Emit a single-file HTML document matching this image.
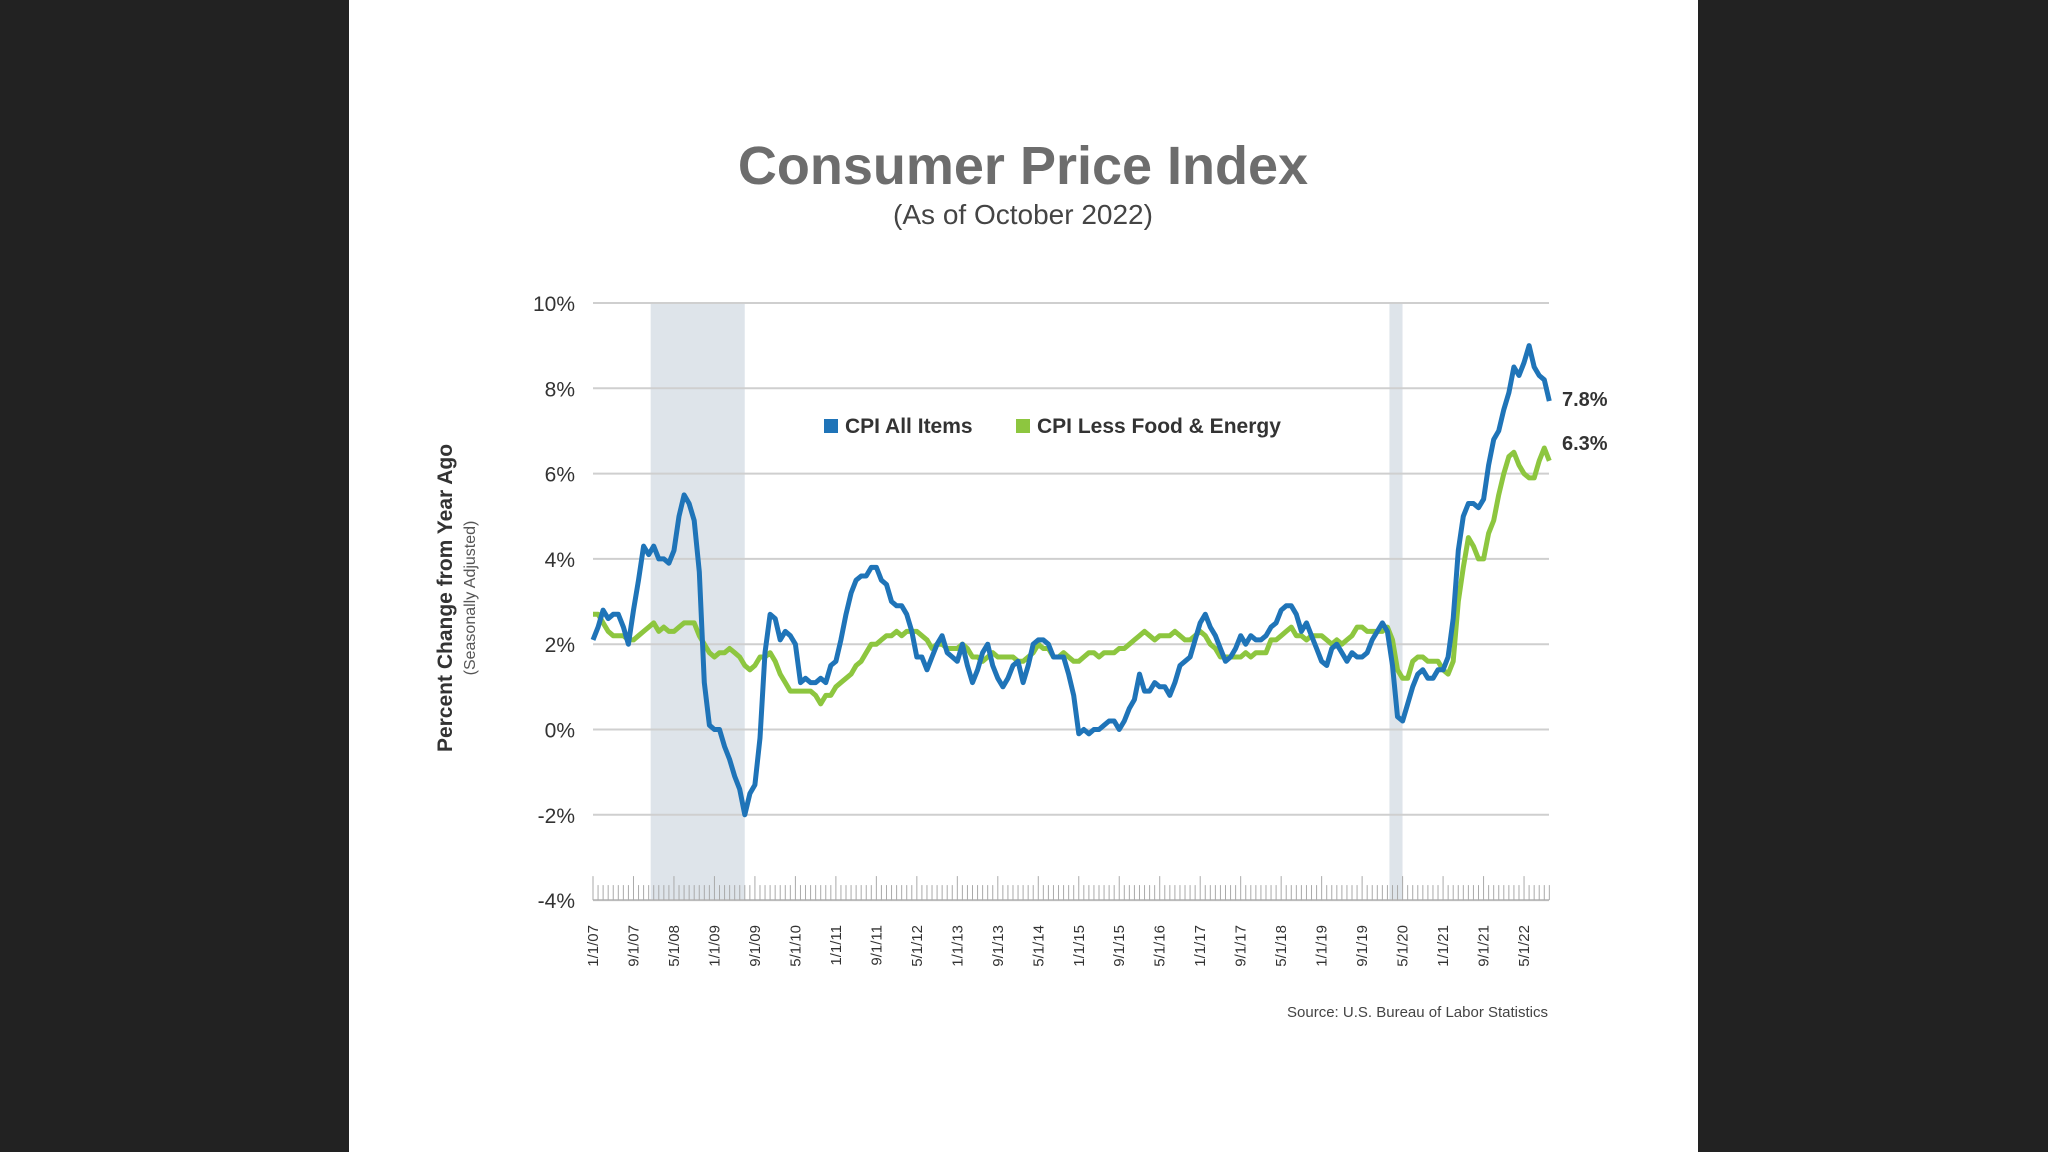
<!DOCTYPE html>
<html><head><meta charset="utf-8"><style>
body{margin:0;background:#222;width:2048px;height:1152px;overflow:hidden;font-family:"Liberation Sans",sans-serif}
</style></head><body>
<div style="position:absolute;left:0;top:0;width:2048px;height:1152px;background:#222"></div>
<div style="position:absolute;left:349px;top:0;width:1349px;height:1152px;background:#fff"></div>
<svg id="chart" width="2048" height="1152" style="position:absolute;left:0;top:0" font-family="Liberation Sans, sans-serif">
<text x="1023" y="184" text-anchor="middle" font-size="54" font-weight="bold" fill="#6d6d6d">Consumer Price Index</text>
<text x="1023" y="224" text-anchor="middle" font-size="28" fill="#444">(As of October 2022)</text>
<text transform="translate(452,598) rotate(-90)" text-anchor="middle" font-size="21" font-weight="bold" fill="#333">Percent Change from Year Ago</text>
<text transform="translate(475,598) rotate(-90)" text-anchor="middle" font-size="16" fill="#555">(Seasonally Adjusted)</text>
<g id="shade"></g><g id="grid"></g><g id="ticks"></g><g id="xlabels"></g><g id="lines"></g>
<rect x="824" y="419" width="14" height="14" fill="#1f74b8"/>
<text x="845" y="433" font-size="21" font-weight="bold" fill="#333">CPI All Items</text>
<rect x="1016" y="419" width="14" height="14" fill="#8dc63f"/>
<text x="1037" y="433" font-size="21" font-weight="bold" fill="#333">CPI Less Food &amp; Energy</text>
<text x="1562" y="406" font-size="20" font-weight="bold" fill="#333">7.8%</text>
<text x="1562" y="450" font-size="20" font-weight="bold" fill="#333">6.3%</text>
<text x="1548" y="1017" text-anchor="end" font-size="15" fill="#444">Source: U.S. Bureau of Labor Statistics</text>
</svg>
<script>
const yTicks=[10,8,6,4,2,0,-2,-4];
const xLabels=["1/1/07","9/1/07","5/1/08","1/1/09","9/1/09","5/1/10","1/1/11","9/1/11","5/1/12","1/1/13","9/1/13","5/1/14","1/1/15","9/1/15","5/1/16","1/1/17","9/1/17","5/1/18","1/1/19","9/1/19","5/1/20","1/1/21","9/1/21","5/1/22"];
const recessions=[[11,29],[157,159]];
const cpiAll=[2.1,2.4,2.8,2.6,2.7,2.7,2.4,2.0,2.8,3.5,4.3,4.1,
4.3,4.0,4.0,3.9,4.2,5.0,5.5,5.3,4.9,3.7,1.1,0.1,
0.0,0.0,-0.4,-0.7,-1.1,-1.4,-2.0,-1.5,-1.3,-0.2,1.8,2.7,
2.6,2.1,2.3,2.2,2.0,1.1,1.2,1.1,1.1,1.2,1.1,1.5,
1.6,2.1,2.7,3.2,3.5,3.6,3.6,3.8,3.8,3.5,3.4,3.0,
2.9,2.9,2.7,2.3,1.7,1.7,1.4,1.7,2.0,2.2,1.8,1.7,
1.6,2.0,1.5,1.1,1.4,1.8,2.0,1.5,1.2,1.0,1.2,1.5,
1.6,1.1,1.5,2.0,2.1,2.1,2.0,1.7,1.7,1.7,1.3,0.8,
-0.1,0.0,-0.1,0.0,0.0,0.1,0.2,0.2,0.0,0.2,0.5,0.7,
1.3,0.9,0.9,1.1,1.0,1.0,0.8,1.1,1.5,1.6,1.7,2.1,
2.5,2.7,2.4,2.2,1.9,1.6,1.7,1.9,2.2,2.0,2.2,2.1,
2.1,2.2,2.4,2.5,2.8,2.9,2.9,2.7,2.3,2.5,2.2,1.9,
1.6,1.5,1.9,2.0,1.8,1.6,1.8,1.7,1.7,1.8,2.1,2.3,
2.5,2.3,1.5,0.3,0.2,0.6,1.0,1.3,1.4,1.2,1.2,1.4,
1.4,1.7,2.6,4.2,5.0,5.3,5.3,5.2,5.4,6.2,6.8,7.0,
7.5,7.9,8.5,8.3,8.6,9.0,8.5,8.3,8.2,7.7];
const cpiCore=[2.7,2.7,2.5,2.3,2.2,2.2,2.2,2.1,2.1,2.2,2.3,2.4,
2.5,2.3,2.4,2.3,2.3,2.4,2.5,2.5,2.5,2.2,2.0,1.8,
1.7,1.8,1.8,1.9,1.8,1.7,1.5,1.4,1.5,1.7,1.7,1.8,
1.6,1.3,1.1,0.9,0.9,0.9,0.9,0.9,0.8,0.6,0.8,0.8,
1.0,1.1,1.2,1.3,1.5,1.6,1.8,2.0,2.0,2.1,2.2,2.2,
2.3,2.2,2.3,2.3,2.3,2.2,2.1,1.9,2.0,2.0,1.9,1.9,
1.9,2.0,1.9,1.7,1.7,1.6,1.7,1.8,1.7,1.7,1.7,1.7,
1.6,1.6,1.7,1.8,2.0,1.9,1.9,1.7,1.7,1.8,1.7,1.6,
1.6,1.7,1.8,1.8,1.7,1.8,1.8,1.8,1.9,1.9,2.0,2.1,
2.2,2.3,2.2,2.1,2.2,2.2,2.2,2.3,2.2,2.1,2.1,2.2,
2.3,2.2,2.0,1.9,1.7,1.7,1.7,1.7,1.7,1.8,1.7,1.8,
1.8,1.8,2.1,2.1,2.2,2.3,2.4,2.2,2.2,2.1,2.2,2.2,
2.2,2.1,2.0,2.1,2.0,2.1,2.2,2.4,2.4,2.3,2.3,2.3,
2.3,2.4,2.1,1.4,1.2,1.2,1.6,1.7,1.7,1.6,1.6,1.6,
1.4,1.3,1.6,3.0,3.8,4.5,4.3,4.0,4.0,4.6,4.9,5.5,
6.0,6.4,6.5,6.2,6.0,5.9,5.9,6.3,6.6,6.3];
const NS="http://www.w3.org/2000/svg";
const X0=593,PXM=5.06,Y10=303,PPCT=42.65;
function xs(m){return X0+m*PXM;}
function ys(v){return Y10+(10-v)*PPCT;}
function mk(tag,attrs,parent){const e=document.createElementNS(NS,tag);for(const k in attrs)e.setAttribute(k,attrs[k]);document.getElementById(parent).appendChild(e);return e;}
recessions.forEach(r=>{
  const e=mk('rect',{x:xs(r[0])+2,y:ys(10),width:xs(r[1])-xs(r[0])+3,height:ys(-4)-ys(10),fill:'#dee4ea'},'shade');
  
  
});
yTicks.forEach(t=>{
  if(t>-4){const g=mk('line',{x1:593,x2:1549,y1:ys(t),y2:ys(t),stroke:'#cfcfcf','stroke-width':2},'grid');
  
  }
  const l=mk('text',{x:575,y:ys(t)+8,'text-anchor':'end','font-size':21,fill:'#333'},'grid');
  
  
  l.textContent=t+'%';
});
const base=mk('line',{x1:593,x2:1549,y1:ys(-4),y2:ys(-4),stroke:'#bbb','stroke-width':2},'ticks');


for(let m=0;m<cpiAll.length;m++){
  const major=m%8===0;
  const t=mk('line',{x1:xs(m),x2:xs(m),y1:ys(-4),y2:ys(-4)-(major?24:15),stroke:'#aaa','stroke-width':1},'ticks');
  
  
}
xLabels.forEach((s,i)=>{
  const x=xs(i*8)+5;
  const t=mk('text',{transform:`translate(${x},925) rotate(-90)`,'text-anchor':'end','font-size':15,fill:'#333'},'xlabels');
  
  
  t.textContent=s;
});
function line(data,color,name){
  const d=data.map((v,i)=>(i?'L':'M')+xs(i).toFixed(1)+','+ys(v).toFixed(1)).join(' ');
  const p=mk('path',{d:d,fill:'none',stroke:color,'stroke-width':5,'stroke-linejoin':'round'},'lines');
  
  
}
line(cpiCore,'#8dc63f','core-cpi-line');
line(cpiAll,'#1f74b8','all-items-cpi-line');
</script>
</body></html>
